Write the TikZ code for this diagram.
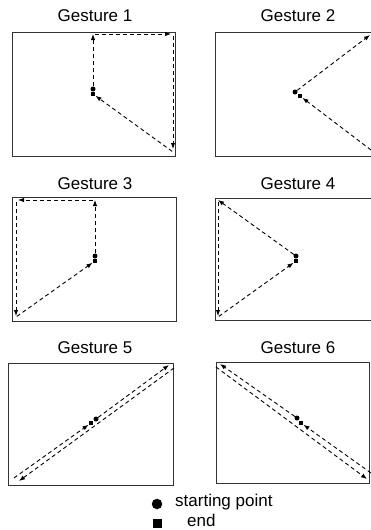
\documentclass[tikz,border=0pt]{standalone}
\usepackage{fontspec}
\setmainfont{Liberation Sans}
\usetikzlibrary{arrows.meta}
\begin{document}
\begin{tikzpicture}[x=1pt,y=-1pt,
  frame/.style={draw=black!80, line width=0.9pt},
  title/.style={font=\fontsize{17}{20}\selectfont, inner sep=0pt},
  legtext/.style={font=\fontsize{17}{20}\selectfont, inner sep=0pt, anchor=west},
  startdot/.style={circle, fill=black, inner sep=0pt, minimum size=5pt},
  enddot/.style={rectangle, fill=black, inner sep=0pt, minimum size=4.5pt},
  bigstart/.style={circle, fill=black, inner sep=0pt, minimum size=10.5pt},
  bigend/.style={rectangle, fill=black, inner sep=0pt, minimum size=9pt},
  stroke/.style={line width=0.9pt, dash pattern=on 4pt off 3pt, -{Latex[length=6pt,width=4.5pt]}},
]
\useasboundingbox (0,0) rectangle (371,530);

% ---------- Gesture 1 ----------
\node[title] (t1) at (95,16) {Gesture 1};
\draw[frame] (12,32) rectangle (175,156);
\node[startdot] (s1) at (93,89) {};
\node[enddot] (e1) at (93,94) {};
\coordinate (A1) at (93,34);
\coordinate (B1) at (173,34);
\coordinate (C1) at (173,152);
\draw[stroke] (s1) -- (A1);
\draw[stroke, shorten <=2pt, shorten >=2pt] (A1) -- (B1);
\draw[stroke, shorten <=2pt, shorten >=3pt] (B1) -- (C1);
\draw[stroke, shorten <=1pt] (C1) -- (e1);

% ---------- Gesture 2 ----------
\node[title] (t2) at (298,16) {Gesture 2};
\draw[frame] (215,32) rectangle (373,156);
\node[startdot] (s2) at (295,92) {};
\node[enddot] (e2) at (300,96) {};
\coordinate (A2) at (370,35);
\coordinate (B2) at (371,150);
\draw[stroke] (s2) -- (A2);
\draw[stroke] (B2) -- (e2);

% ---------- Gesture 3 ----------
\node[title] (t3) at (95,184) {Gesture 3};
\draw[frame] (12,197) rectangle (176,321);
\node[startdot] (s3) at (95,256) {};
\node[enddot] (e3) at (95,261) {};
\coordinate (A3) at (95,200);
\coordinate (B3) at (16,200);
\coordinate (C3) at (16,317);
\draw[stroke] (s3) -- (A3);
\draw[stroke, shorten <=2pt, shorten >=2pt] (A3) -- (B3);
\draw[stroke, shorten <=2pt, shorten >=1pt] (B3) -- (C3);
\draw[stroke, shorten <=1pt] (C3) -- (e3);

% ---------- Gesture 4 ----------
\node[title] (t4) at (298,184) {Gesture 4};
\draw[frame] (215,198) rectangle (373,320);
\node[startdot] (s4) at (296,256) {};
\node[enddot] (e4) at (296,261) {};
\coordinate (A4) at (218,200);
\coordinate (B4) at (218,317);
\draw[stroke] (s4) -- (A4);
\draw[stroke, shorten <=2pt, shorten >=1pt] (A4) -- (B4);
\draw[stroke, shorten <=1pt] (B4) -- (e4);

% ---------- Gesture 5 ----------
\node[title] (t5) at (95,348) {Gesture 5};
\draw[frame] (8,363) rectangle (173,485);
\node[startdot] (s5) at (96,419) {};
\node[enddot] (e5) at (91,423) {};
\coordinate (A5) at (169,365);
\coordinate (B5) at (174,368);
\coordinate (C5) at (19,481);
\coordinate (D5) at (14,478);
\draw[stroke] (s5) -- (A5);
\draw[stroke] (B5) -- (C5);
\draw[stroke] (D5) -- (e5);

% ---------- Gesture 6 ----------
\node[title] (t6) at (298,348) {Gesture 6};
\draw[frame] (216,362) rectangle (369.5,483);
\node[startdot] (s6) at (297,418) {};
\node[enddot] (e6) at (301,423) {};
\coordinate (A6) at (220,364);
\coordinate (B6) at (216,367);
\coordinate (C6) at (367,479);
\coordinate (D6) at (371,473);
\draw[stroke] (s6) -- (A6);
\draw[stroke] (B6) -- (C6);
\draw[stroke] (D6) -- (e6);

% ---------- Legend ----------
\node[bigstart] (ls) at (157,504) {};
\node[legtext] (lst) at (175,502) {starting point};
\node[bigend] (le) at (157,523) {};
\node[legtext] (let) at (187,520) {end};
\end{tikzpicture}
\end{document}
